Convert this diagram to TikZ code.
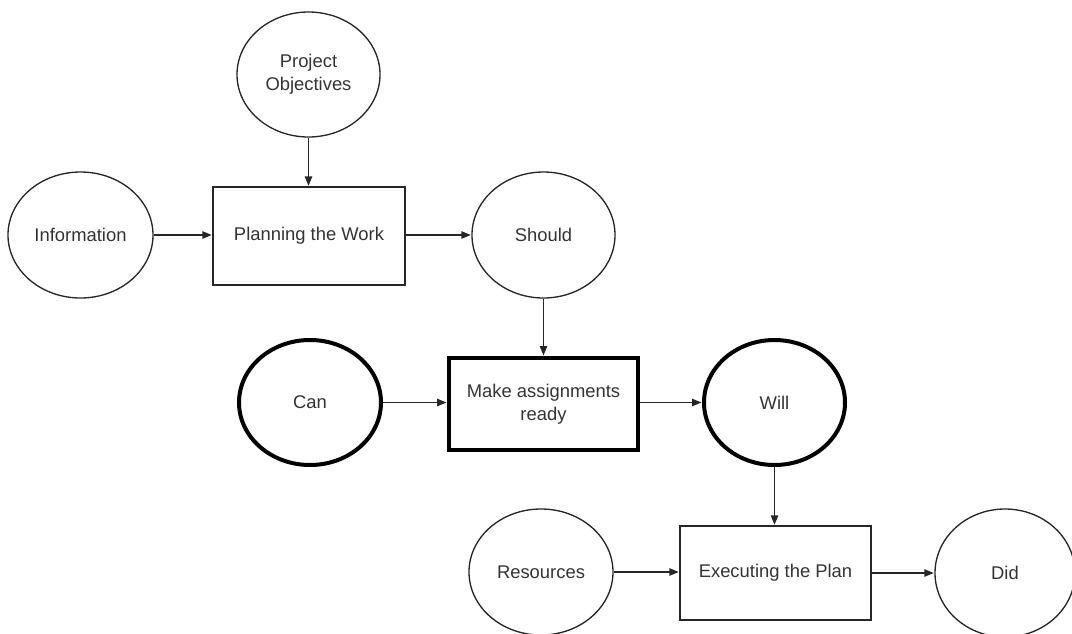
\documentclass[tikz,border=0pt]{standalone}
\usepackage{fontspec}
\setmainfont{Liberation Sans}
\usetikzlibrary{shapes.geometric,arrows.meta}
\begin{document}
\begin{tikzpicture}[x=0.75pt,y=-0.75pt,
  every node/.style={font=\fontsize{13.8}{17}\selectfont, text=black!80, align=center},
  sz/.style 2 args={minimum width=#1*0.75pt, minimum height=#2*0.75pt},
  oval/.style={ellipse, draw=black!85, line width=1pt, inner sep=0pt},
  box/.style={rectangle, draw=black!85, line width=1pt, inner sep=0pt},
  heavy/.style={line width=3pt, draw=black},
  link/.style={draw=black!85, line width=0.95pt, -{Triangle[length=7pt,width=5.5pt]}, shorten >=0.4pt}]
\useasboundingbox (0,0) rectangle (1072,633);

% top row: planning
\node[oval, sz={143}{125}] (po) at (308.5,74.5) {Project\\Objectives};
\node[oval, sz={145}{126}] (info) at (80.5,235) {Information};
\node[box, sz={192}{98}] (plan) at (309,236) {Planning the Work};
\node[oval, sz={143}{126}] (should) at (543.5,235) {Should};

% middle row: assignments
\node[oval, heavy, sz={142}{125}] (can) at (310,402.5) {Can};
\node[box, heavy, sz={189}{92}] (make) at (543.5,404) {Make assignments\\ready};
\node[oval, heavy, sz={141}{125}] (will) at (774.5,402.5) {Will};

% bottom row: execution
\node[oval, sz={144}{126}] (res) at (541,572) {Resources};
\node[box, sz={191}{94}] (exec) at (775.5,573) {Executing the Plan};
\node[oval, sz={140}{128}] (did) at (1005,573) {Did};

% connectors
\draw[link] (po.south) -- (po.south |- plan.north);
\draw[link] (info.east) -- (info.east -| plan.west);
\draw[link] (plan.east |- should.west) -- (should.west);
\draw[link] (should.south) -- (should.south |- make.north);
\draw[link] (can.east) -- (can.east -| make.west);
\draw[link] (make.east |- will.west) -- (will.west);
\draw[link] (will.south) -- (will.south |- exec.north);
\draw[link] (res.east) -- (res.east -| exec.west);
\draw[link] (exec.east) -- (exec.east -| did.west);
\end{tikzpicture}
\end{document}
